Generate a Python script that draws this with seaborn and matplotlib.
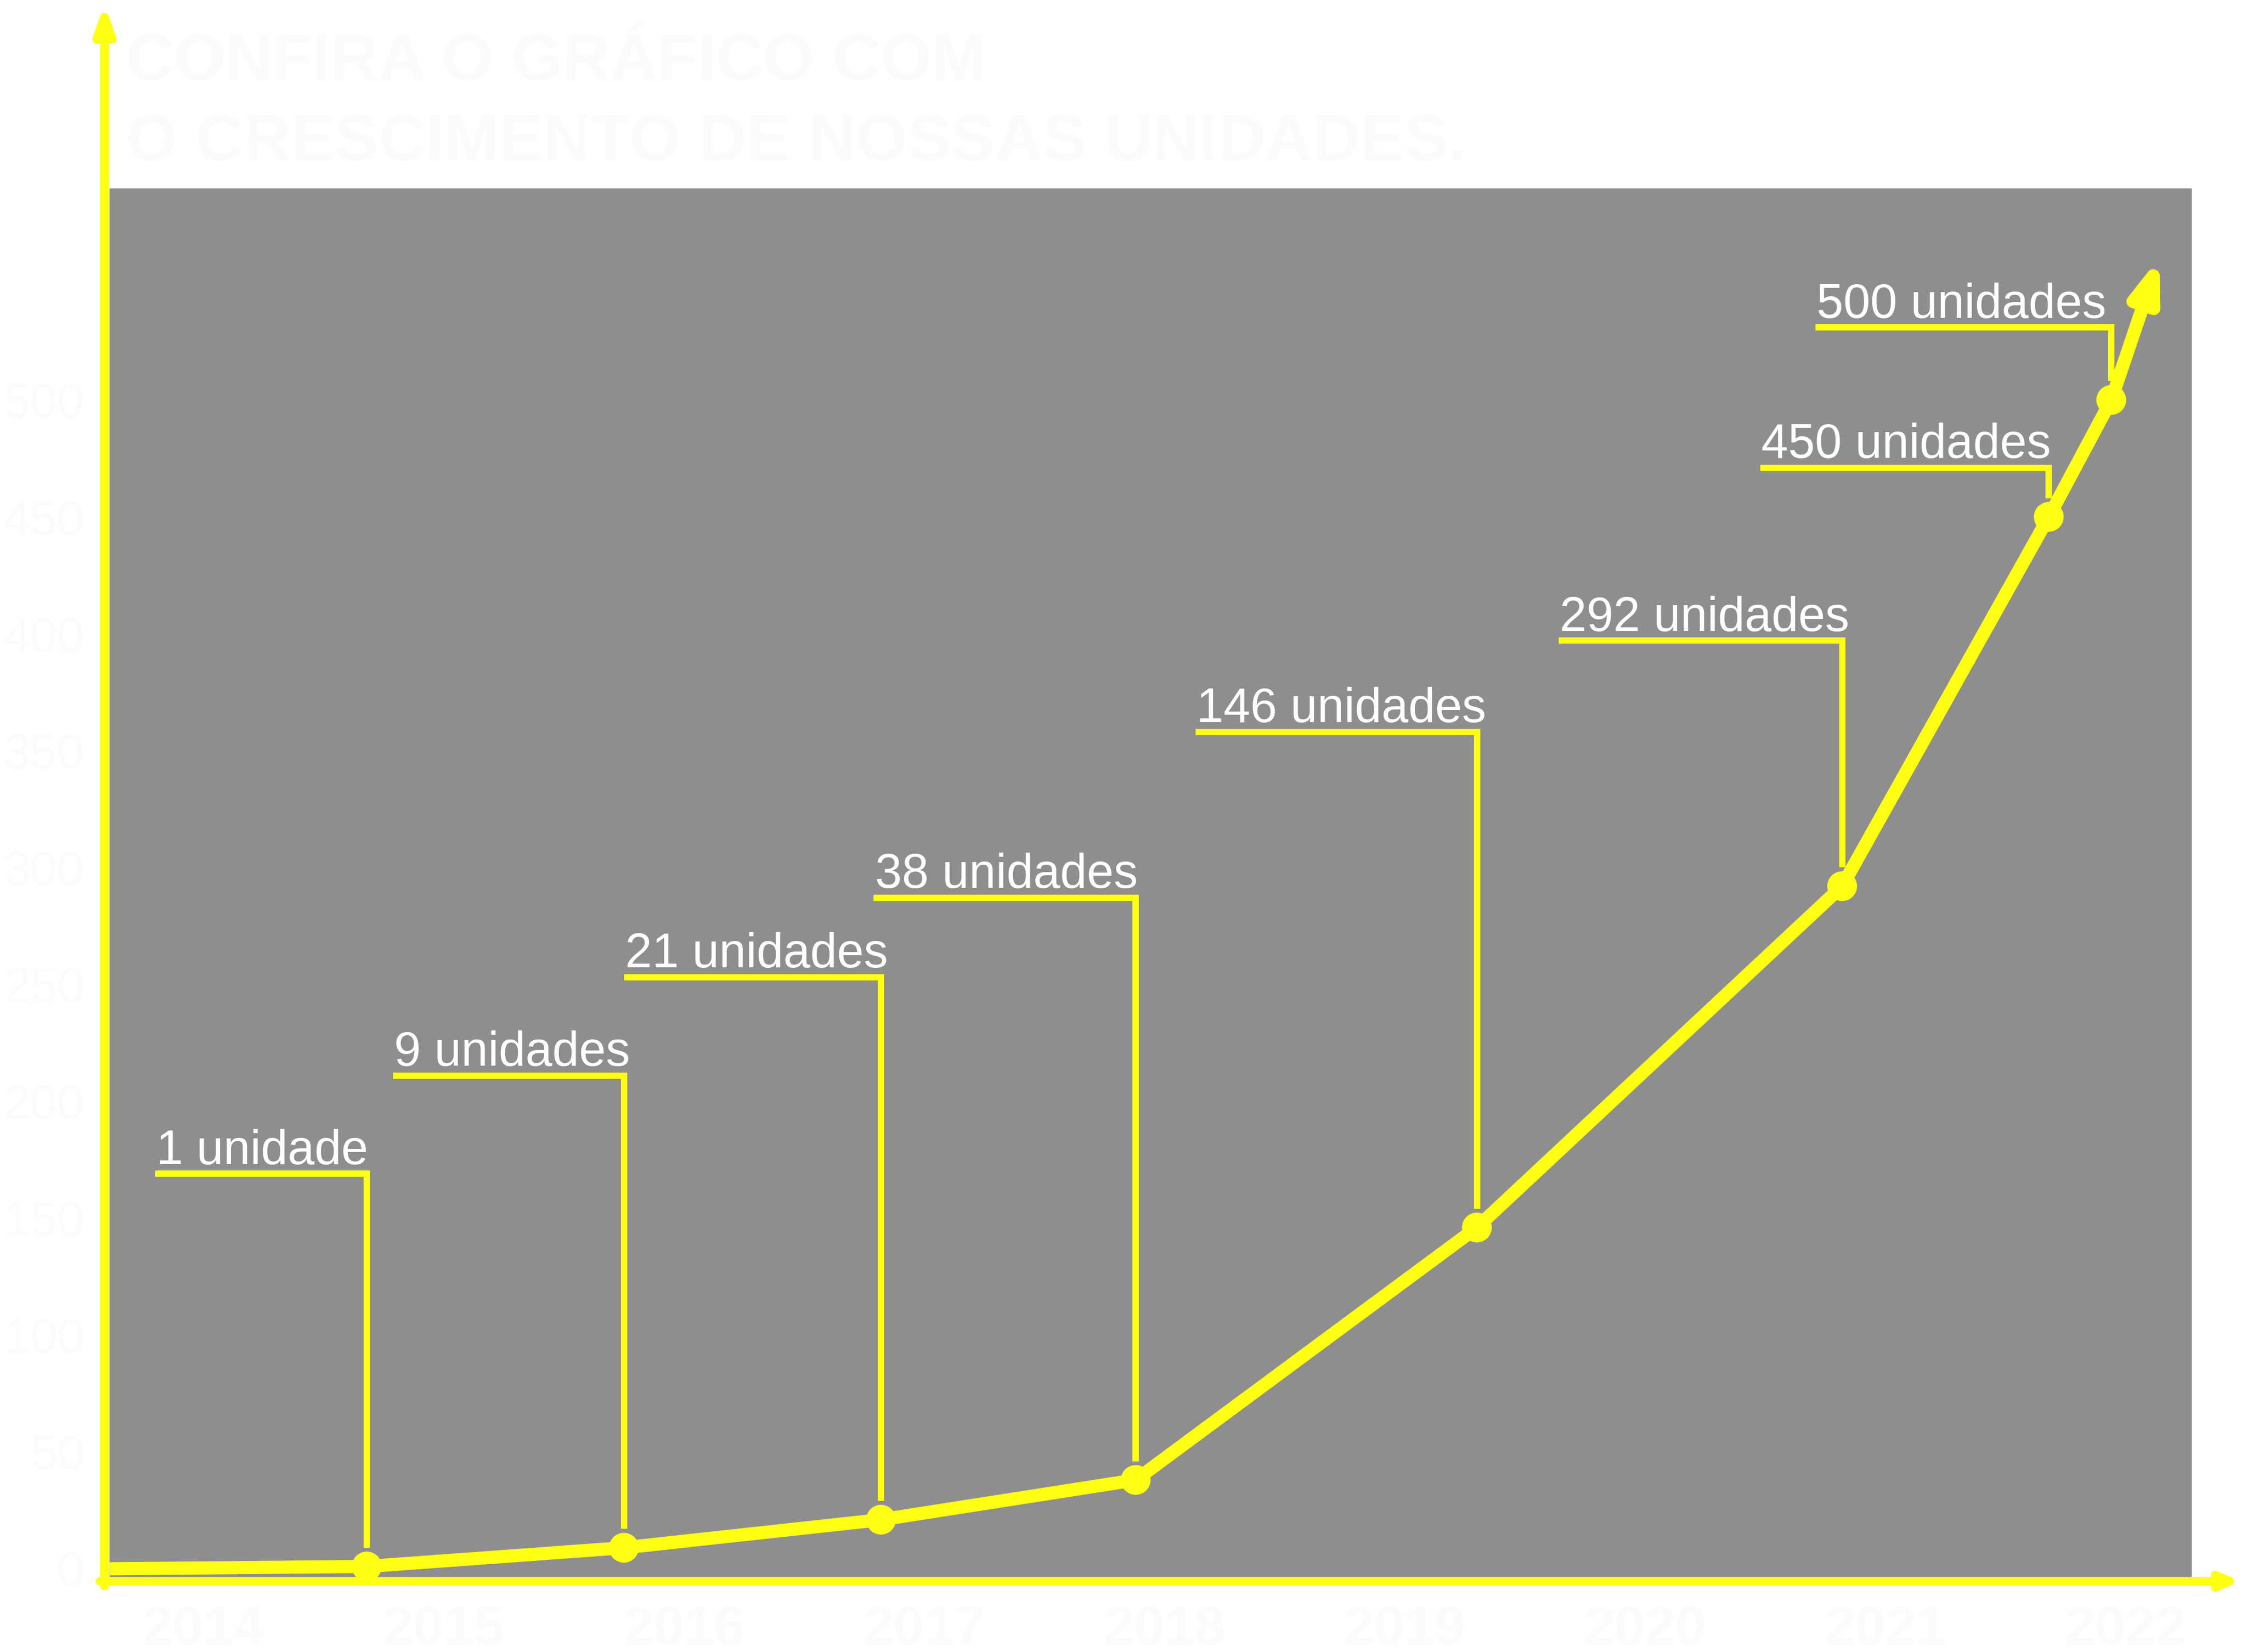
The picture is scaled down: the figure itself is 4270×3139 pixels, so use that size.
import matplotlib
matplotlib.use('Agg')
import matplotlib.pyplot as plt
from matplotlib.transforms import ScaledTranslation
import seaborn as sns
import pandas as pd

sns.set_style('white')
plt.rcParams['font.family'] = ['Liberation Sans', 'DejaVu Sans']

# dados
anos = [2014, 2015, 2016, 2017, 2018, 2019, 2020, 2021, 2022]
inicio_x = 2013.61
pos_x = [2014.68, 2015.75, 2016.82, 2017.88, 2019.30, 2020.82, 2021.68, 2021.94]
unidades = [1, 9, 21, 38, 146, 292, 450, 500]
rotulos = ['1 unidade', '9 unidades', '21 unidades', '38 unidades',
           '146 unidades', '292 unidades', '450 unidades', '500 unidades']
escala_y = list(range(0, 501, 50))

# canto esquerdo de cada linha de chamada (layout)
rot_x = [2013.80, 2014.79, 2015.75, 2016.79, 2018.13, 2019.64, 2020.48, 2020.71]
rot_y = [169, 211, 253, 287, 358, 397, 471, 531]

amarelo = '#ffff14'
cinza = '#8e8e8e'
quase_branco = '#fbfbfb'
W, H = 4270, 3139

fig = plt.figure(figsize=(W / 300, H / 300), dpi=300)
fig.patch.set_facecolor('white')
ax = fig.add_axes([207.5 / W, 1 - 3004 / H, (4165 - 207.5) / W, (3004 - 358) / H])
ax.set_facecolor(cinza)
for s in ax.spines.values():
    s.set_visible(False)

df = pd.DataFrame({'ano': [inicio_x] + pos_x, 'unidades': [0] + unidades})
sns.lineplot(data=df, x='ano', y='unidades', color=amarelo, lw=6, ax=ax,
             solid_capstyle='butt', zorder=3)
sns.scatterplot(x=pos_x, y=unidades, s=185, color=amarelo, edgecolor='none',
                ax=ax, zorder=4)

# seta no fim da linha
seta_trans = ax.transData + ScaledTranslation(22 / 72, 65 / 72, fig.dpi_scale_trans)
ax.annotate('', xy=(pos_x[-1], unidades[-1]), xycoords=seta_trans,
            xytext=(pos_x[-1], unidades[-1]), textcoords='data',
            arrowprops=dict(arrowstyle='-|>,head_length=14,head_width=5',
                            mutation_scale=1, lw=6, color=amarelo,
                            shrinkA=0, shrinkB=0), zorder=3)

# linhas de chamada e rótulos
folga = 8
for i in range(len(unidades)):
    ax.plot([rot_x[i], pos_x[i], pos_x[i]], [rot_y[i], rot_y[i], unidades[i] + folga],
            color=amarelo, lw=2.9, solid_joinstyle='miter', solid_capstyle='butt',
            zorder=2)
    ax.annotate(rotulos[i], xy=(rot_x[i], rot_y[i]), xytext=(0.5, 4.5),
                textcoords='offset points', color='white', fontsize=22,
                ha='left', va='baseline', zorder=5)

ax.set_xlim(2013.608, 2022.275)
ax.set_ylim(-5.2, 590.5)
ax.set_xticks(anos)
ax.set_xticklabels([str(a) for a in anos], fontsize=25, fontweight='bold',
                   color=quase_branco)
ax.set_yticks(escala_y)
ax.set_yticklabels([str(v) for v in escala_y], fontsize=22, color=quase_branco)
ax.tick_params(axis='x', length=0, pad=11)
ax.tick_params(axis='y', length=0, pad=11.4)
ax.set_xlabel('')
ax.set_ylabel('')

# eixos amarelos com setas
fig_px = 'figure pixels'
ax.annotate('', xy=(198.5, H - 8), xycoords=fig_px,
            xytext=(198.5, H - 3013), textcoords=fig_px,
            arrowprops=dict(arrowstyle='-|>,head_length=9.8,head_width=3.5',
                            mutation_scale=1, lw=4.1, color=amarelo,
                            shrinkA=0, shrinkB=0), annotation_clip=False)
ax.annotate('', xy=(4258, H - 3004.5), xycoords=fig_px,
            xytext=(190, H - 3004.5), textcoords=fig_px,
            arrowprops=dict(arrowstyle='-|>,head_length=6.6,head_width=2.8',
                            mutation_scale=1, lw=3.9, color=amarelo,
                            shrinkA=0, shrinkB=0), annotation_clip=False)

# título (quase branco, como no original)
fig.text(240 / W, 1 - 152 / H, 'CONFIRA O GRÁFICO COM', fontsize=30,
         fontweight='bold', color=quase_branco, va='baseline')
fig.text(240 / W, 1 - 305 / H, 'O CRESCIMENTO DE NOSSAS UNIDADES.', fontsize=30,
         fontweight='bold', color=quase_branco, va='baseline')

fig.savefig('out.png', dpi=300, facecolor='white')
